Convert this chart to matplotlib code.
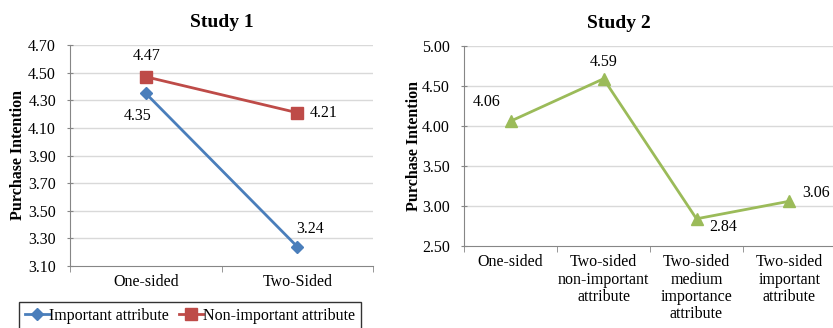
import matplotlib.pyplot as plt
import numpy as np

plt.rcParams['font.family'] = ['Liberation Serif', 'DejaVu Serif']

# Study 1
cats1 = ["One-sided", "Two-Sided"]
important = [4.35, 3.24]
non_important = [4.47, 4.21]
yticks1 = [3.10, 3.30, 3.50, 3.70, 3.90, 4.10, 4.30, 4.50, 4.70]

# Study 2
cats2 = ["One-sided", "Two-sided\nnon-important\nattribute",
         "Two-sided\nmedium\nimportance\nattribute",
         "Two-sided\nimportant\nattribute"]
study2 = [4.06, 4.59, 2.84, 3.06]
yticks2 = [2.50, 3.00, 3.50, 4.00, 4.50, 5.00]

blue = "#4A7EBB"
red = "#BE4B48"
green = "#9BBB59"
grid = "#D9D9D9"
spine = "#868686"
fs = 11.5

fig = plt.figure(figsize=(8.33, 3.28), dpi=100)
ax1 = fig.add_axes([70/833, 1 - 266/328, 303/833, 221/328])
ax2 = fig.add_axes([464/833, 1 - 246/328, 372/833, 200/328])


def style(ax, yticks, n):
    ax.set_ylim(yticks[0], yticks[-1])
    ax.set_yticks(yticks)
    ax.set_yticklabels(["%.2f" % t for t in yticks], fontsize=fs)
    ax.set_xlim(-0.5, n - 0.5)
    ax.set_xticks(np.arange(n))
    ax.set_xticks(np.arange(n + 1) - 0.5, minor=True)
    ax.tick_params(axis='x', which='major', length=0, labelsize=fs, pad=6)
    ax.tick_params(axis='x', which='minor', length=4, direction='out', color=spine)
    ax.tick_params(axis='y', length=4, direction='inout', color=spine, pad=8)
    for t in yticks[1:]:
        ax.axhline(t, color=grid, lw=1, zorder=0)
    for s in ['top', 'right']:
        ax.spines[s].set_visible(False)
    for s in ['left', 'bottom']:
        ax.spines[s].set_color(spine)
    ax.set_ylabel("Purchase Intention", fontsize=fs, fontweight='bold')


x1 = np.arange(len(cats1))
l1, = ax1.plot(x1, important, color=blue, lw=2, marker='D', ms=6, label="Important attribute", zorder=3)
l2, = ax1.plot(x1, non_important, color=red, lw=2, marker='s', ms=8, label="Non-important attribute", zorder=3)
style(ax1, yticks1, len(cats1))
ax1.set_xticklabels(cats1)
ax1.yaxis.set_label_coords(-0.145, 0.5)
ax1.set_title("Study 1", fontsize=14, fontweight='bold', pad=13)

ax1.annotate("%.2f" % non_important[0], (0, non_important[0]), xytext=(1, 15), textcoords='offset points', ha='center', va='center', fontsize=fs)
ax1.annotate("%.2f" % important[0], (0, important[0]), xytext=(-6, -16), textcoords='offset points', ha='center', va='center', fontsize=fs)
ax1.annotate("%.2f" % non_important[1], (1, non_important[1]), xytext=(9, 0), textcoords='offset points', ha='left', va='center', fontsize=fs)
ax1.annotate("%.2f" % important[1], (1, important[1]), xytext=(9, 13), textcoords='offset points', ha='center', va='center', fontsize=fs)

leg = fig.legend(handles=[l1, l2], loc='upper left', bbox_to_anchor=(19/833, 1 - 302/328),
                 ncol=2, frameon=True, fancybox=False, fontsize=fs,
                 handlelength=1.5, handletextpad=0.05, columnspacing=0.6,
                 borderpad=0.35, edgecolor='black', borderaxespad=0)
leg.get_frame().set_linewidth(1)

x2 = np.arange(len(cats2))
ax2.plot(x2, study2, color=green, lw=2, marker='^', ms=9, zorder=3)
style(ax2, yticks2, len(cats2))
ax2.set_xticklabels(cats2, linespacing=1.1, va='top')
ax2.yaxis.set_label_coords(-0.113, 0.5)
ax2.set_title("Study 2", fontsize=14, fontweight='bold', pad=13, x=0.417)

offs = [(-17, 14), (0, 12), (19, -6), (19, 6)]
for i, v in enumerate(study2):
    dx, dy = offs[i]
    ax2.annotate("%.2f" % v, (i, v), xytext=(dx, dy), textcoords='offset points', ha='center', va='center', fontsize=fs)

fig.savefig("out.png", dpi=100)
